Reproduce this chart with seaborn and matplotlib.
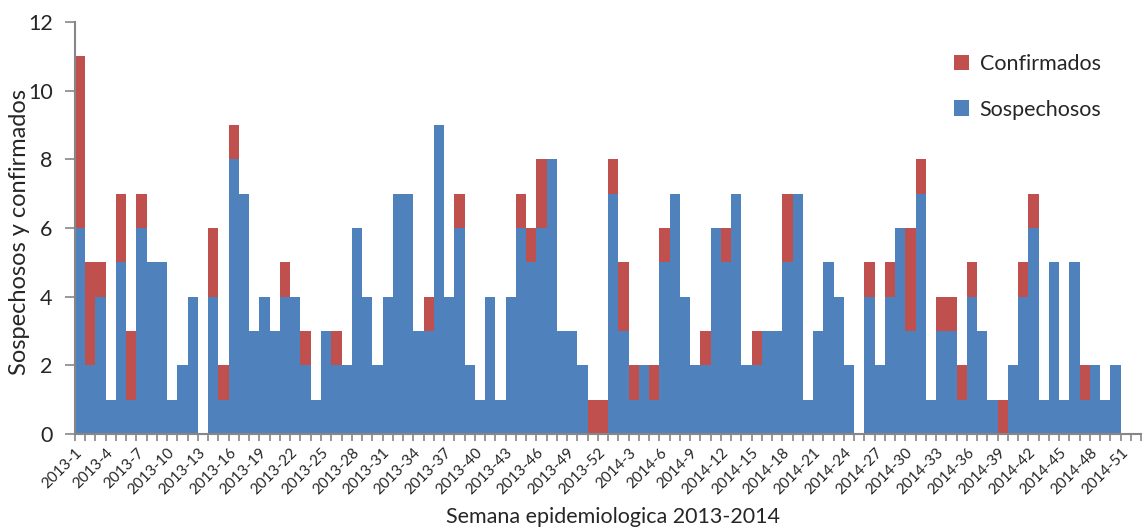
import matplotlib
matplotlib.use("Agg")
import matplotlib.pyplot as plt
import seaborn as sns
import pandas as pd
from matplotlib.patches import Patch

sns.set_theme(style="white")
plt.rcParams['font.family'] = ['Lato', 'DejaVu Sans']

weeks = [f"2013-{i}" for i in range(1, 53)] + [f"2014-{i}" for i in range(1, 53)]

sospechosos = [
    6, 2, 4, 1, 5, 1, 6, 5, 5, 1, 2, 4, 0, 4, 1, 8, 7, 3, 4, 3,
    4, 4, 2, 1, 3, 2, 2, 6, 4, 2, 4, 7, 7, 3, 3, 9, 4, 6, 2, 1,
    4, 1, 4, 6, 5, 6, 8, 3, 3, 2, 0, 0,
    7, 3, 1, 2, 1, 5, 7, 4, 2, 2, 6, 5, 7, 2, 2, 3, 3, 5,
    7, 1, 3, 5, 4, 2, 0, 4, 2, 4, 6, 3, 7, 1, 3, 3, 1, 4,
    3, 1, 0, 2, 4, 6, 1, 5, 1, 5, 1, 2, 1, 2, 0, 0,
]
confirmados = [
    5, 3, 1, 0, 2, 2, 1, 0, 0, 0, 0, 0, 0, 2, 1, 1, 0, 0, 0, 0,
    1, 0, 1, 0, 0, 1, 0, 0, 0, 0, 0, 0, 0, 0, 1, 0, 0, 1, 0, 0,
    0, 0, 0, 1, 1, 2, 0, 0, 0, 0, 1, 1,
    1, 2, 1, 0, 1, 1, 0, 0, 0, 1, 0, 1, 0, 0, 1, 0, 0, 2,
    0, 0, 0, 0, 0, 0, 0, 1, 0, 1, 0, 3, 1, 0, 1, 1, 1, 1,
    0, 0, 1, 0, 1, 1, 0, 0, 0, 0, 1, 0, 0, 0, 0, 0,
]

df = pd.DataFrame({"semana": weeks, "sosp": sospechosos, "conf": confirmados})
df["total"] = df["sosp"] + df["conf"]

BLUE = "#4F81BD"
RED = "#C0504D"
GRAY = "#868686"

fig = plt.figure(figsize=(11.48, 5.31), dpi=100)
ax = fig.add_axes([0.0653, 0.1827, 0.9287, 0.7759])

sns.barplot(data=df, x="semana", y="total", color=RED, saturation=1, width=1.0,
            linewidth=0, ax=ax, order=weeks)
sns.barplot(data=df, x="semana", y="sosp", color=BLUE, saturation=1, width=1.0,
            linewidth=0, ax=ax, order=weeks)

ax.set_xlim(-0.5, len(weeks) - 0.5)
ax.set_ylim(0, 12)
ax.set_yticks(range(0, 13, 2))
ax.tick_params(axis='y', labelsize=15.5, length=7, width=1.2, color=GRAY, direction='out', left=True, pad=9)

ax.set_xticks(range(0, len(weeks), 3))
ax.set_xticklabels(weeks[::3], rotation=45, ha='right', va='center', rotation_mode='anchor', fontsize=11)
ax.set_xticks([i - 0.5 for i in range(len(weeks) + 1)], minor=True)
ax.tick_params(axis='x', which='major', length=0, pad=12)
ax.tick_params(axis='x', which='minor', length=5, width=1.2, color=GRAY, direction='out', bottom=True)

for s in ['top', 'right']:
    ax.spines[s].set_visible(False)
for s in ['left', 'bottom']:
    ax.spines[s].set_color(GRAY)
    ax.spines[s].set_linewidth(1.5)

ax.set_ylabel("Sospechosos y confirmados", fontsize=17)
ax.yaxis.set_label_coords(-0.042, 0.49)
ax.set_xlabel("Semana epidemiologica 2013-2014", fontsize=15.5)
ax.xaxis.set_label_coords(0.505, -0.177)

handles = [Patch(facecolor=RED, edgecolor='none', label="Confirmados"),
           Patch(facecolor=BLUE, edgecolor='none', label="Sospechosos")]
ax.legend(handles=handles, loc='upper right', bbox_to_anchor=(0.981, 0.97), frameon=False,
          fontsize=15.5, handlelength=0.7, handleheight=0.7, handletextpad=0.5, labelspacing=1.2)

fig.savefig("out.png", dpi=100)
